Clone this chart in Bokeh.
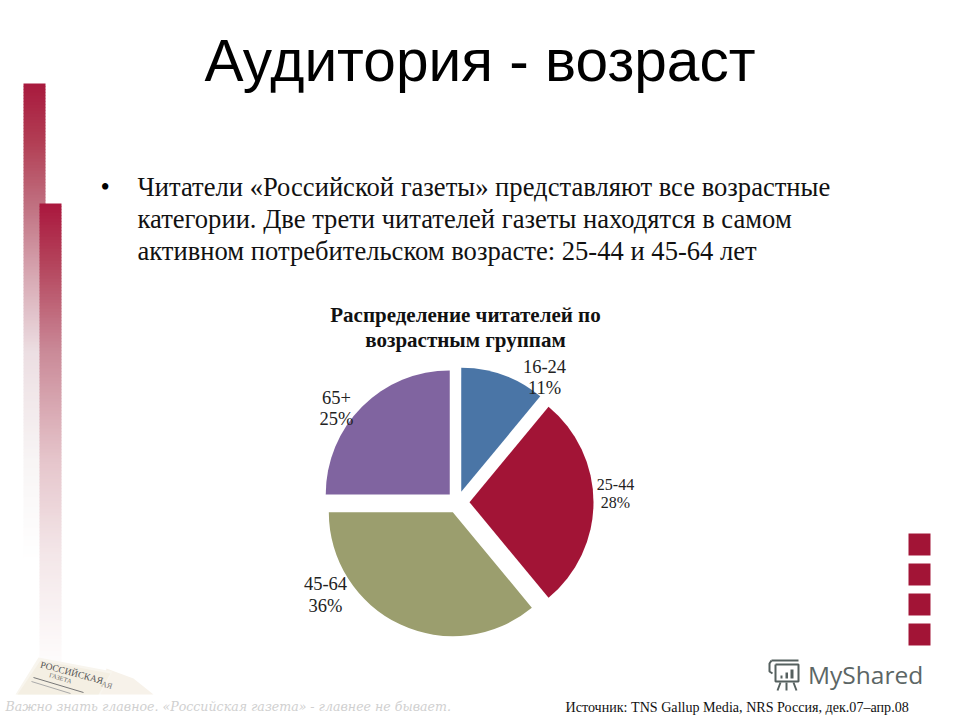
import math
from bokeh.plotting import figure
from bokeh.embed import file_html
from bokeh.resources import INLINE

# --- data
categories = ["16-24", "25-44", "45-64", "65+"]
shares = [11, 28, 36, 25]
slice_colors = ["#4a75a6", "#a21436", "#9b9e6e", "#8064a0"]
explode = [11, 12, 11, 11]
title_text = "Аудитория - возраст"
body_lines = ["Читатели «Российской газеты» представляют все возрастные",
              "категории. Две трети читателей газеты находятся в самом",
              "активном потребительском возрасте: 25-44 и 45-64 лет"]
chart_title = ["Распределение читателей по", "возрастным группам"]
source_text = "Источник: TNS Gallup Media, NRS Россия, дек.07–апр.08"
tagline = "Важно знать главное. «Российская газета» - главнее не бывает."

# --- layout (pixels in the 960x720 window, y measured from the top)
def Y(v):
    return 720 - v

CX, CY, R = 457, 501.7, 124
label_x = [544, 615, 325, 336]
label_y1 = [366, 484, 583, 397]
label_y2 = [387, 502, 605, 418]
label_size = ["18.5px", "16px", "18.5px", "18.5px"]

p = figure(width=960, height=720, x_range=(0, 960), y_range=(0, 720),
           output_backend="svg", toolbar_location=None, min_border=0,
           x_axis_type=None, y_axis_type=None)
p.outline_line_color = None
p.grid.visible = False
p.background_fill_color = "#ffffff"


def lerp_stops(stops, v):
    for (a, ca), (b, cb) in zip(stops, stops[1:]):
        if a <= v <= b:
            t = (v - a) / (b - a)
            return "#%02x%02x%02x" % tuple(round(x + (y - x) * t) for x, y in zip(ca, cb))
    return "#ffffff"


def gradient_bar(x0, x1, stops):
    tops = list(range(stops[0][0], stops[-1][0], 3))
    p.quad(left=x0, right=x1, top=[Y(t) for t in tops], bottom=[Y(t + 3.4) for t in tops],
           fill_color=[lerp_stops(stops, t) for t in tops], line_color=None)


gradient_bar(23, 45, [(83, (168, 26, 62)), (140, (178, 62, 84)), (203, (192, 112, 128)),
                      (270, (214, 165, 176)), (350, (236, 222, 226)), (460, (248, 245, 245)),
                      (560, (255, 255, 255))])
gradient_bar(39, 61, [(203, (170, 24, 62)), (262, (180, 68, 92)), (350, (202, 138, 152)),
                      (460, (230, 198, 204)), (550, (243, 230, 232)), (650, (253, 250, 250)),
                      (692, (255, 255, 255))])

# red squares on the right
p.quad(left=908, right=930, top=[Y(v) for v in (533, 563, 593, 623)],
       bottom=[Y(v) for v in (555, 585, 615, 645)], fill_color="#a21436", line_color=None)

# texts
p.text(x=[479.5], y=[Y(60)], text=[title_text], text_font={"value": "Liberation Sans"},
       text_font_size="58.6px", text_color="#000000", text_align="center", text_baseline="middle")
p.text(x=[137] * 3, y=[Y(186.5), Y(218.5), Y(250.5)], text=body_lines,
       text_font={"value": "Liberation Serif"}, text_font_size="26.6px", text_color="#111111",
       text_baseline="middle")
p.text(x=[100], y=[Y(186.5)], text=["•"], text_font={"value": "Liberation Serif"},
       text_font_size="26.6px", text_color="#000000", text_baseline="middle")
p.text(x=[465, 465], y=[Y(314), Y(339)], text=chart_title,
       text_font={"value": "Liberation Serif"}, text_font_style="bold", text_font_size="21px",
       text_color="#111111", text_align="center", text_baseline="middle")

# pie
cum = 0
starts, ends, xs, ys = [], [], [], []
total = sum(shares)
for s, d in zip(shares, explode):
    a0 = cum / total * 2 * math.pi
    a1 = (cum + s) / total * 2 * math.pi
    mid = (a0 + a1) / 2
    xs.append(CX + d * math.sin(mid))
    ys.append(Y(CY) + d * math.cos(mid))
    starts.append(math.pi / 2 - a0)
    ends.append(math.pi / 2 - a1)
    cum += s
p.wedge(x=xs, y=ys, radius=R, start_angle=starts, end_angle=ends, direction="clock",
        fill_color=slice_colors, line_color=None)

for c, s, lx, y1, y2, fs in zip(categories, shares, label_x, label_y1, label_y2, label_size):
    p.text(x=[lx, lx], y=[Y(y1), Y(y2)], text=[c, f"{s}%"], text_font={"value": "Liberation Serif"},
           text_font_size=fs, text_color="#222222", text_align="center", text_baseline="middle")

# newspaper picture
p.patch(x=[106, 133, 153, 100], y=[Y(668), Y(678), Y(694), Y(694)], fill_color="#f7f2ea", line_color=None)
p.patch(x=[38, 112, 100, 15], y=[Y(657), Y(671), Y(694), Y(694)], fill_color="#f8f5ee", line_color=None)
p.patch(x=[40, 110, 98, 17], y=[Y(660), Y(673), Y(694), Y(694)], fill_color="#f4efe3", line_color=None)
p.text(x=[40], y=[Y(664)], text=["РОССИЙСКАЯ"], angle=-0.26, text_font={"value": "Liberation Serif"},
       text_font_size="9.5px", text_color="#555555", text_baseline="middle")
p.text(x=[49], y=[Y(674)], text=["ГАЗЕТА"], angle=-0.3, text_font={"value": "Liberation Serif"},
       text_font_size="6.5px", text_color="#666666", text_baseline="middle")
p.text(x=[101], y=[Y(683)], text=["АЯ"], angle=-0.3, text_font={"value": "Liberation Serif"},
       text_font_size="8px", text_color="#777777", text_baseline="middle")
p.line(x=[33, 83], y=[Y(677), Y(692)], line_color="#777777", line_width=1)
p.line(x=[31, 70], y=[Y(681), Y(693)], line_color="#aaaaaa", line_width=1)

# tagline and source
p.text(x=[5], y=[Y(706)], text=[tagline], text_font={"value": "DejaVu Serif"}, text_font_style="italic",
       text_font_size="12.6px", text_color="#d0d0d0", text_baseline="middle")
p.text(x=[565], y=[Y(706)], text=[source_text], text_font={"value": "Liberation Serif"},
       text_font_size="14.1px", text_color="#111111", text_baseline="middle")

# MyShared logo
logo = "#55605f"
p.text(x=[807.5], y=[Y(674)], text=["MyShared"], text_font={"value": "Open Sans"},
       text_font_size="24.5px", text_color="#5c6665", text_baseline="middle")
p.multi_line(xs=[[775, 775, 798, 798, 775], [771, 798], [771, 769, 769, 772], [780, 777], [786, 786], [793, 796]],
             ys=[[Y(664), Y(681), Y(681), Y(664), Y(664)],
                 [Y(660), Y(660)],
                 [Y(660), Y(663), Y(671), Y(673)],
                 [Y(682), Y(690)], [Y(682), Y(690)], [Y(682), Y(690)]],
             line_color=logo, line_width=2)
p.quad(left=[780, 785, 790], right=[782, 787.5, 793],
       top=[Y(675), Y(672), Y(669)], bottom=[Y(678), Y(678), Y(678)],
       fill_color=logo, line_color=None)

open("out.html", "w").write(file_html(p, INLINE))
